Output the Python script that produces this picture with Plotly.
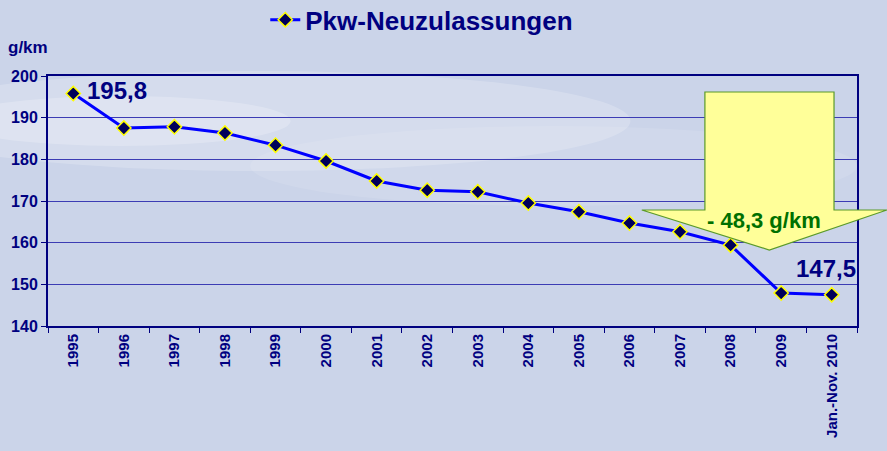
import plotly.graph_objects as go

years = ["1995", "1996", "1997", "1998", "1999", "2000", "2001", "2002",
         "2003", "2004", "2005", "2006", "2007", "2008", "2009", "Jan.-Nov. 2010"]
co2 = [195.8, 187.5, 187.8, 186.3, 183.4, 179.6, 174.8, 172.6,
       172.2, 169.5, 167.4, 164.7, 162.6, 159.4, 147.9, 147.5]
y_ticks = [140, 150, 160, 170, 180, 190, 200]

NAVY = "#000080"
GRID = "#3c3cb4"
FONT = "Liberation Sans, Arial, sans-serif"

fig = go.Figure()
fig.add_trace(go.Scatter(
    x=years, y=co2, mode="lines+markers", name="Pkw-Neuzulassungen",
    line=dict(color="#0000ff", width=3),
    marker=dict(symbol="diamond", size=11, color="#00005a",
                line=dict(color="#ffff00", width=1.5)),
))

# soft cloud band in the background
for x0, y0, x1, y1, op in [(-0.2, 0.62, 0.72, 1.02, 0.2), (-0.12, 0.72, 0.3, 0.92, 0.22),
                           (0.25, 0.48, 1.0, 0.8, 0.1)]:
    fig.add_shape(type="circle", xref="paper", yref="paper", x0=x0, y0=y0, x1=x1, y1=y1,
                  fillcolor="white", opacity=op, line_width=0, layer="below")

# block arrow showing the reduction
fig.add_shape(
    type="path", xref="paper", yref="paper",
    path="M 0.812 0.936 L 0.9716 0.936 L 0.9716 0.464 L 1.037 0.464 "
         "L 0.8916 0.304 L 0.734 0.464 L 0.812 0.464 Z",
    fillcolor="#ffff99", line=dict(color="#5a9a2a", width=1.2), layer="above",
)
fig.add_annotation(xref="paper", yref="paper", x=0.885, y=0.424, text="- 48,3 g/km",
                   xanchor="center", yanchor="middle", showarrow=False,
                   font=dict(size=22, color="#007000", family=FONT, weight="bold"))

fig.add_annotation(x=0, y=co2[0], text="195,8", showarrow=False,
                   xanchor="left", xshift=12, yshift=3,
                   font=dict(size=24, color=NAVY, family=FONT, weight="bold"))
fig.add_annotation(x=len(years) - 1, y=co2[-1], text="147,5", showarrow=False,
                   xanchor="center", yshift=26, xshift=-6,
                   font=dict(size=24, color=NAVY, family=FONT, weight="bold"))
fig.add_annotation(xref="paper", yref="paper", x=-0.052, y=1.112, xanchor="left", yanchor="middle",
                   text="g/km", showarrow=False,
                   font=dict(size=17, color=NAVY, family=FONT, weight="bold"))

fig.update_layout(
    width=887, height=451,
    margin=dict(l=48, r=30, t=76, b=125),
    paper_bgcolor="#cbd4e9", plot_bgcolor="rgba(0,0,0,0)",
    font=dict(family=FONT, color=NAVY),
    showlegend=True,
    legend=dict(orientation="h", x=0.462, xanchor="center",
                yref="container", y=0.956, yanchor="middle",
                bgcolor="rgba(0,0,0,0)",
                font=dict(size=26, color=NAVY, family=FONT, weight="bold")),
)
fig.update_xaxes(
    type="category", range=[-0.5, len(years) - 0.5], tickangle=-90, tickson="boundaries",
    ticks="outside", ticklen=5, tickcolor=NAVY, showline=True, linecolor=NAVY, linewidth=2,
    mirror=True, showgrid=False,
    tickfont=dict(size=15, color=NAVY, family=FONT, weight="bold"),
)
fig.update_yaxes(
    range=[140, 200], tickvals=y_ticks, ticks="outside", ticklen=5, tickcolor=NAVY,
    showline=True, linecolor=NAVY, linewidth=2, mirror=True,
    gridcolor=GRID, gridwidth=1.3, zeroline=False,
    tickfont=dict(size=16, color=NAVY, family=FONT, weight="bold"),
)

fig.write_html("out.html", config={"displayModeBar": False},
               post_script="document.body.style.margin='0';")
